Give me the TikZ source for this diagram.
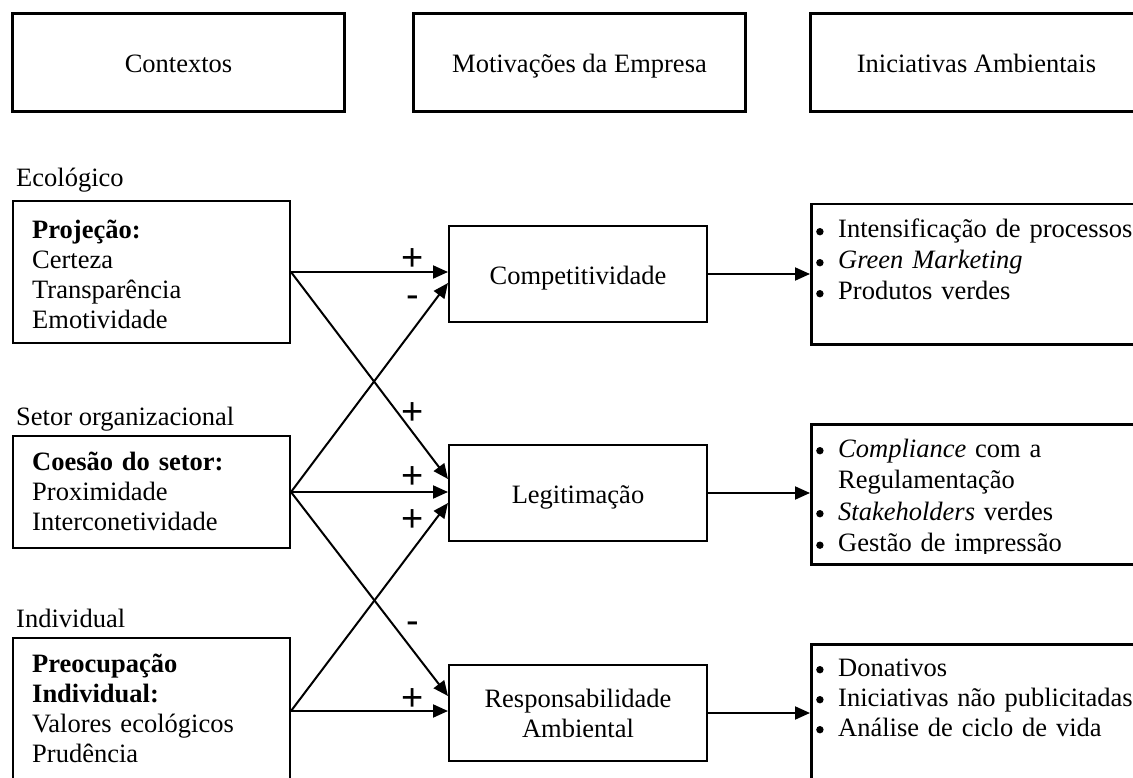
\documentclass[tikz,border=0pt]{standalone}
\usepackage{fontspec}
\setmainfont{Liberation Serif}
\newfontfamily\signfont{Liberation Sans}
\usetikzlibrary{arrows.meta}
% round bullet with hanging indent, and the matching indent for continuation lines
\newcommand\bul{\makebox[24pt][l]{\hspace{2pt}\tikz[baseline=0pt]\fill (3.7pt,6.3pt) circle[radius=3.7pt];}}
\newcommand\cnt{\hspace*{24pt}}

\begin{document}
\begin{tikzpicture}[x=1pt, y=-1pt,
  txt/.style={font=\fontsize{26.5}{30}\selectfont},
  header/.style={txt, draw, line width=3pt, anchor=north west, inner sep=0pt,
    minimum width=332pt, minimum height=98pt, text height=22pt, text depth=2pt},
  motive/.style={txt, draw, line width=2pt, anchor=north west, inner sep=0pt,
    minimum width=258pt, minimum height=96pt, align=center},
  ctxbox/.style={draw, line width=2pt, anchor=north west, inner sep=0pt,
    minimum width=277pt},
  actbox/.style={draw, line width=2.5pt, anchor=north west, inner sep=0pt,
    minimum width=360pt, minimum height=140pt},
  textlines/.style={txt, anchor=base west, inner sep=0pt, text width=320pt,
    align=left},
  ctxlabel/.style={txt, anchor=base west, inner sep=0pt},
  signmark/.style={font=\signfont\fontsize{38}{40}\selectfont, anchor=base,
    inner sep=0pt},
  conn/.style={line width=2pt, -{Triangle[length=15pt, width=13pt]}}
]
\path[use as bounding box] (0,0) rectangle (1133,778);
\clip (0,0) rectangle (1133,778);

% column headers
\node[header] (h1) at (11,12)  {Contextos};
\node[header] (h2) at (412,12) {Motivações da Empresa};
\node[header] (h3) at (809,12) {Iniciativas Ambientais};

% contexts
\node[ctxlabel] (l1) at (16,187) {Ecológico};
\node[ctxbox, minimum height=142pt] (eco) at (12,200) {};
\node[textlines] (ecot) at (32,239)
  {\textbf{Projeção:}\\Certeza\\Transparência\\Emotividade};

\node[ctxlabel] (l2) at (16,425) {Setor organizacional};
\node[ctxbox, minimum height=112pt] (set) at (12,435) {};
\node[textlines] (sett) at (32,470)
  {\textbf{Coesão do setor:}\\Proximidade\\Interconetividade};

\node[ctxlabel] (l3) at (16,627) {Individual};
\node[ctxbox, minimum height=146pt] (ind) at (12,637) {};
\node[textlines] (indt) at (32,672)
  {\textbf{Preocupação}\\\textbf{Individual:}\\Valores ecológicos\\Prudência};

% motivations
\node[motive, text height=22pt, text depth=2pt] (comp)  at (448,225) {Competitividade};
\node[motive, text height=22pt, text depth=2pt] (legit) at (448,444) {Legitimação};
\node[motive] (resp) at (448,664) {Responsabilidade\\Ambiental};

% environmental initiatives
\node[actbox] (act1) at (810,203) {};
\node[textlines, font=\fontsize{26.5}{31}\selectfont] (act1t) at (814,238)
  {\bul Intensificação de processos\\\bul\textit{Green Marketing}\\\bul Produtos verdes};

\node[actbox] (act2) at (810,423) {};
\begin{scope}
  \clip (810,423) rectangle (1133,553);
  \node[textlines, font=\fontsize{26.5}{31.5}\selectfont] (act2t) at (814,457)
    {\bul\textit{Compliance} com a\\\cnt Regulamentação\\\bul\textit{Stakeholders} verdes\\\bul Gestão de impressão};
\end{scope}

\node[actbox] (act3) at (810,643) {};
\node[textlines] (act3t) at (814,676)
  {\bul Donativos\\\bul Iniciativas não publicitadas\\\bul Análise de ciclo de vida};

% influences of the contexts on the motivations
\draw[conn] (eco.east) -- (eco.east -| comp.west);
\draw[conn] (eco.east) -- ([yshift=14pt]legit.west);
\draw[conn] (set.east) -- ([yshift=-9pt]comp.west);
\draw[conn] (set.east) -- (set.east -| legit.west);
\draw[conn] (set.east) -- ([yshift=17pt]resp.west);
\draw[conn] (ind.east) -- ([yshift=-10pt]legit.west);
\draw[conn] (ind.east) -- (ind.east -| resp.west);

% motivations lead to initiatives
\draw[conn] (comp.east)  -- (comp.east -| act1.west);
\draw[conn] (legit.east) -- (legit.east -| act2.west);
\draw[conn] (resp.east)  -- (resp.east -| act3.west);

% signs of the influences
\node[signmark] (s1) at (413,271) {+};
\node[signmark] (s2) at (413,307) {-};
\node[signmark] (s3) at (413,424) {+};
\node[signmark] (s4) at (413,488) {+};
\node[signmark] (s5) at (413,531) {+};
\node[signmark] (s6) at (413,633) {-};
\node[signmark] (s7) at (413,710) {+};
\end{tikzpicture}
\end{document}
